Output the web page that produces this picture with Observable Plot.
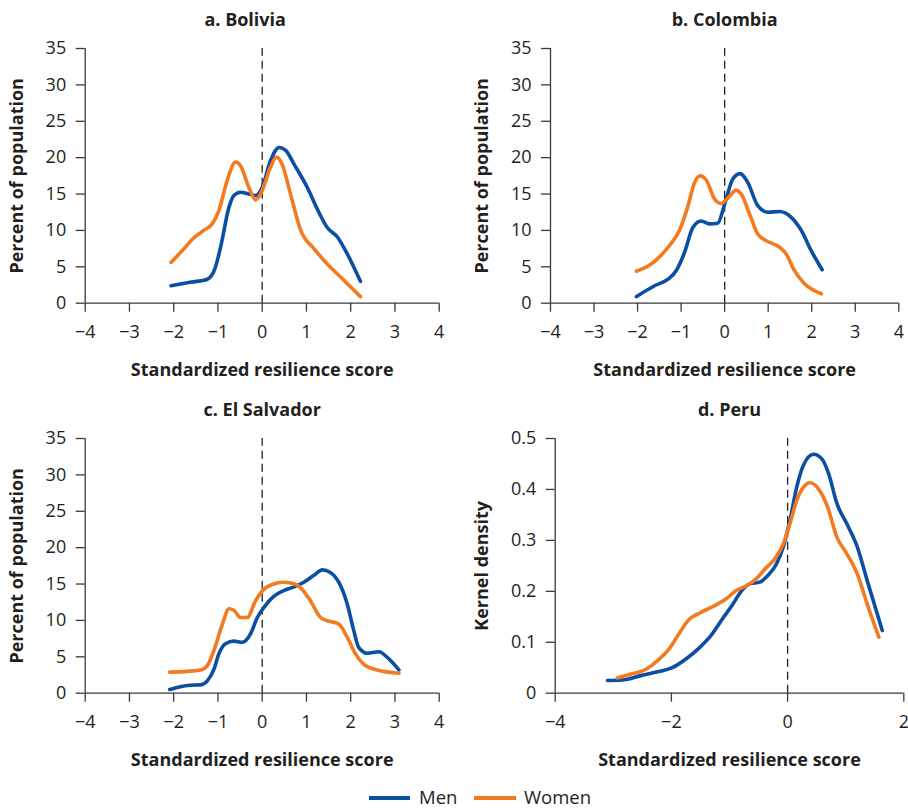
<!DOCTYPE html>
<html>
<head>
<meta charset="utf-8">
<script src="https://cdn.jsdelivr.net/npm/d3@7"></script>
<script src="https://cdn.jsdelivr.net/npm/@observablehq/plot@0.6"></script>
<style>
  html, body { margin: 0; padding: 0; background: #fff; }
  #root { position: relative; width: 908px; height: 809px; font-family: "Open Sans", "Noto Sans", sans-serif; color: #231f20; }
  .panel { position: absolute; }
  .legend { position: absolute; left: 0; top: 785px; width: 908px; height: 24px; }
  .legend .item { position: absolute; top: 0; font-size: 18.5px; line-height: 24px; color: #231f20; }
  .legend .swatch { position: absolute; top: 11px; height: 4px; }
</style>
</head>
<body>
<div id="root"></div>
<script>
// ---------- data ----------
const seriesNames = ["Men", "Women"];
const seriesColors = ["#0b4ea2", "#f47a20"];

const panelTitles = ["a. Bolivia", "b. Colombia", "c. El Salvador", "d. Peru"];
const yLabels = ["Percent of population", "Percent of population", "Percent of population", "Kernel density"];
const xLabel = "Standardized resilience score";

const xTicksABC = [-4, -3, -2, -1, 0, 1, 2, 3, 4];
const xTicksD = [-4, -2, 0, 2];
const yTicksPct = [0, 5, 10, 15, 20, 25, 30, 35];
const yTicksDensity = [0, 0.1, 0.2, 0.3, 0.4, 0.5];

// [score, value]
const boliviaMen = [[-2.06,2.4],[-1.6,2.9],[-1.24,3.3],[-1.06,4.9],[-0.94,7.7],[-0.75,13.2],[-0.64,14.8],[-0.49,15.25],[-0.3,15.0],[-0.15,14.8],[0.0,15.9],[0.19,19.6],[0.38,21.4],[0.53,21.0],[0.72,19.1],[1.02,15.9],[1.24,13.0],[1.47,10.4],[1.7,9.1],[1.92,6.8],[2.22,3.0]];
const boliviaWomen = [[-2.06,5.6],[-1.81,7.2],[-1.54,9.0],[-1.32,10.0],[-1.13,10.9],[-0.98,12.7],[-0.79,16.9],[-0.6,19.4],[-0.49,18.9],[-0.3,15.9],[-0.15,14.2],[0.0,15.5],[0.19,18.7],[0.32,20.1],[0.45,19.1],[0.64,15.0],[0.87,10.0],[1.17,7.5],[1.47,5.4],[1.77,3.6],[2.22,0.9]];

const colombiaMen = [[-2.03,0.9],[-1.61,2.4],[-1.3,3.3],[-1.11,4.5],[-0.92,7.0],[-0.73,10.4],[-0.54,11.3],[-0.35,10.9],[-0.16,11.0],[0.0,13.6],[0.19,17.1],[0.36,17.8],[0.53,16.6],[0.76,13.4],[0.99,12.5],[1.26,12.6],[1.53,11.8],[1.76,10.0],[1.99,7.2],[2.24,4.6]];
const colombiaWomen = [[-2.03,4.4],[-1.73,5.2],[-1.46,6.6],[-1.23,8.2],[-1.04,10.0],[-0.85,13.2],[-0.69,16.6],[-0.56,17.5],[-0.42,16.9],[-0.23,14.3],[-0.08,13.7],[0.07,14.4],[0.26,15.5],[0.38,15.0],[0.57,12.3],[0.76,9.5],[0.95,8.6],[1.26,7.7],[1.41,6.8],[1.6,4.5],[1.83,2.7],[2.22,1.3]];

const elSalvadorMen = [[-2.09,0.5],[-1.85,0.9],[-1.62,1.1],[-1.39,1.15],[-1.24,1.7],[-1.09,3.3],[-0.98,5.4],[-0.83,6.8],[-0.64,7.15],[-0.45,7.0],[-0.26,8.2],[-0.11,10.4],[0.04,11.8],[0.26,13.3],[0.49,14.1],[0.72,14.6],[0.94,15.25],[1.17,16.2],[1.36,16.95],[1.54,16.6],[1.73,15.25],[1.92,12.3],[2.07,8.6],[2.18,6.3],[2.37,5.5],[2.64,5.7],[2.82,4.95],[3.09,3.2]];
const elSalvadorWomen = [[-2.09,2.9],[-1.7,3.0],[-1.39,3.2],[-1.24,3.8],[-1.09,5.9],[-0.9,9.5],[-0.75,11.6],[-0.64,11.4],[-0.49,10.4],[-0.34,10.4],[-0.15,12.7],[0.04,14.3],[0.26,15.0],[0.45,15.25],[0.68,15.1],[0.9,14.3],[1.09,12.7],[1.32,10.4],[1.51,9.9],[1.73,9.5],[1.92,7.7],[2.11,5.4],[2.33,3.8],[2.6,3.2],[3.09,2.75]];

const peruMen = [[-3.1,0.025],[-2.85,0.026],[-2.51,0.035],[-2.22,0.0425],[-1.985,0.05],[-1.75,0.067],[-1.52,0.089],[-1.32,0.113],[-1.12,0.146],[-0.94,0.175],[-0.8,0.2],[-0.65,0.2147],[-0.48,0.218],[-0.34,0.231],[-0.19,0.254],[-0.075,0.287],[0.04,0.339],[0.156,0.404],[0.27,0.447],[0.446,0.469],[0.59,0.46],[0.706,0.431],[0.85,0.372],[1.02,0.3325],[1.2,0.287],[1.37,0.221],[1.63,0.123]];
const peruWomen = [[-2.93,0.03],[-2.68,0.038],[-2.42,0.048],[-2.27,0.061],[-2.04,0.087],[-1.87,0.1165],[-1.7,0.144],[-1.52,0.157],[-1.29,0.17],[-1.06,0.185],[-0.885,0.2016],[-0.71,0.211],[-0.54,0.2245],[-0.39,0.244],[-0.22,0.2637],[-0.075,0.293],[0.04,0.3325],[0.156,0.378],[0.27,0.404],[0.39,0.413],[0.53,0.401],[0.68,0.368],[0.85,0.306],[1.02,0.2736],[1.2,0.234],[1.37,0.175],[1.57,0.11]];

// ---------- layout ----------
const ink = "#231f20";
const axisInk = "#3a3a3a";
const fontFamily = '"Open Sans", "Noto Sans", sans-serif';
const tickFmt = d => String(d).replace("-", "\u2212");

const panels = [
  {title: panelTitles[0], yLabel: yLabels[0], men: boliviaMen, women: boliviaWomen, xDomain: [-4, 4], xTicks: xTicksABC, yDomain: [0, 35], yTicks: yTicksPct,
   left: 0, top: 0, mL: 84.7, mR: 15.3, titleDx: -17, yLabelDx: -67.7},
  {title: panelTitles[1], yLabel: yLabels[1], men: colombiaMen, women: colombiaWomen, xDomain: [-4, 4], xTicks: xTicksABC, yDomain: [0, 35], yTicks: yTicksPct,
   left: 454, top: 0, mL: 96, mR: 9.7, titleDx: 0, yLabelDx: -68},
  {title: panelTitles[2], yLabel: yLabels[2], men: elSalvadorMen, women: elSalvadorWomen, xDomain: [-4, 4], xTicks: xTicksABC, yDomain: [0, 35], yTicks: yTicksPct,
   left: 0, top: 390, mL: 84.7, mR: 15.3, titleDx: 0, yLabelDx: -67.7},
  {title: panelTitles[3], yLabel: yLabels[3], men: peruMen, women: peruWomen, xDomain: [-4, 2], xTicks: xTicksD, yDomain: [0, 0.5], yTicks: yTicksDensity,
   left: 454, top: 390, mL: 100.7, mR: 4.7, titleDx: 0, yLabelDx: -72.7}
];

const root = document.getElementById("root");

for (const p of panels) {
  const rows = [];
  p.men.forEach(([x, y]) => rows.push({x, y, s: seriesNames[0]}));
  p.women.forEach(([x, y]) => rows.push({x, y, s: seriesNames[1]}));
  const menRows = rows.filter(d => d.s === seriesNames[0]);
  const womenRows = rows.filter(d => d.s === seriesNames[1]);

  const chart = Plot.plot({
    width: 454,
    height: 390,
    marginLeft: p.mL,
    marginRight: p.mR,
    marginTop: 48,
    marginBottom: 87.3,
    style: {fontFamily, fontSize: "18px", color: ink, background: "#fff", overflow: "visible"},
    x: {domain: p.xDomain},
    y: {domain: p.yDomain},
    color: {domain: seriesNames, range: seriesColors},
    marks: [
      Plot.axisX({ticks: p.xTicks, tickFormat: tickFmt, tickSize: 9, tickPadding: 13, label: null, fontSize: 18, stroke: axisInk, strokeWidth: 1.3, fill: ink}),
      Plot.axisY({ticks: p.yTicks, tickFormat: tickFmt, tickSize: 9, tickPadding: 10, label: null, fontSize: 18, stroke: axisInk, strokeWidth: 1.3, fill: ink}),
      Plot.ruleY([p.yDomain[0]], {stroke: axisInk, strokeWidth: 1.3}),
      Plot.ruleX([p.xDomain[0]], {y1: p.yDomain[0], y2: p.yDomain[1], stroke: axisInk, strokeWidth: 1.3}),
      Plot.ruleX([0], {y1: p.yDomain[0], y2: p.yDomain[1], stroke: "#222", strokeWidth: 1.3, strokeDasharray: "8,5"}),
      Plot.line(menRows, {x: "x", y: "y", stroke: "s", strokeWidth: 3.6, curve: "monotone-x"}),
      Plot.line(womenRows, {x: "x", y: "y", stroke: "s", strokeWidth: 3.6, curve: "monotone-x"}),
      Plot.text([p.title], {frameAnchor: "top", lineAnchor: "middle", dy: -28, dx: p.titleDx, fontWeight: "bold", fontSize: 18, fill: ink}),
      Plot.text([xLabel], {frameAnchor: "bottom", lineAnchor: "middle", dy: 67.3, fontWeight: "bold", fontSize: 18, fill: ink}),
      Plot.text([p.yLabel], {frameAnchor: "left", textAnchor: "middle", lineAnchor: "middle", dx: p.yLabelDx, rotate: -90, fontWeight: "bold", fontSize: 18, fill: ink})
    ]
  });
  const div = document.createElement("div");
  div.className = "panel";
  div.style.left = p.left + "px";
  div.style.top = p.top + "px";
  div.appendChild(chart);
  root.appendChild(div);
}

// legend
const legend = document.createElement("div");
legend.className = "legend";
const legendItems = [
  {name: seriesNames[0], color: seriesColors[0], sx: 369, sw: 41, tx: 419},
  {name: seriesNames[1], color: seriesColors[1], sx: 474, sw: 42, tx: 524}
];
for (const it of legendItems) {
  const sw = document.createElement("div");
  sw.className = "swatch";
  sw.style.left = it.sx + "px";
  sw.style.width = it.sw + "px";
  sw.style.background = it.color;
  legend.appendChild(sw);
  const t = document.createElement("div");
  t.className = "item";
  t.style.left = it.tx + "px";
  t.textContent = it.name;
  legend.appendChild(t);
}
root.appendChild(legend);
</script>
</body>
</html>
